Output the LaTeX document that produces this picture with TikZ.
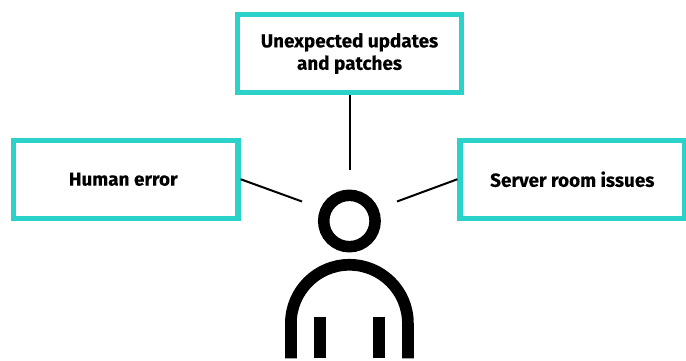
\documentclass[tikz,border=0pt]{standalone}
\usepackage{fontspec}
\setmainfont{Fira Sans}[BoldFont={Fira Sans Bold},BoldFeatures={FakeBold=0.25}]
\definecolor{teal}{HTML}{2AD2C9}
\tikzset{
  callout/.style={draw=teal,line width=5.4pt,fill=white,minimum width=224.5pt,minimum height=78pt,inner sep=0pt,align=center,font=\fontsize{18.9}{22}\selectfont\bfseries,text=black},
  link/.style={draw=black,line width=2pt},
  figure/.style={draw=black,line width=11.7pt},
  leg/.style={draw=black,line width=12pt}
}
\begin{document}
\begin{tikzpicture}[x=1pt,y=-1pt]
\useasboundingbox (0,0) rectangle (686,361);
\node[callout] (top) at (349.5,53.5) {\raisebox{-1pt}{Unexpected updates}\\\raisebox{-1.4pt}{and patches}};
\node[callout] (left) at (125.75,179.25) {Human error\hspace*{5pt}};
\node[callout] (right) at (572.3,179.25) {Server room issues};
\coordinate (topend) at (349.5,170);
\coordinate (leftend) at (302,201.5);
\coordinate (rightend) at (397,201.5);
\draw[link] (top.south) -- (topend);
\draw[link] (left.east) -- (leftend);
\draw[link] (right.west) -- (rightend);
\node[circle,draw=black,line width=11.5pt,minimum size=51.4pt,inner sep=0pt] (head) at (349.4,221) {};
\draw[figure] (290.9,358.3) -- (290.9,323.3) arc[start angle=180,end angle=360,radius=58.5] -- (407.9,358.3);
\draw[leg] (320,316.7) -- (320,358.3);
\draw[leg] (379,316.7) -- (379,358.3);
\end{tikzpicture}
\end{document}
